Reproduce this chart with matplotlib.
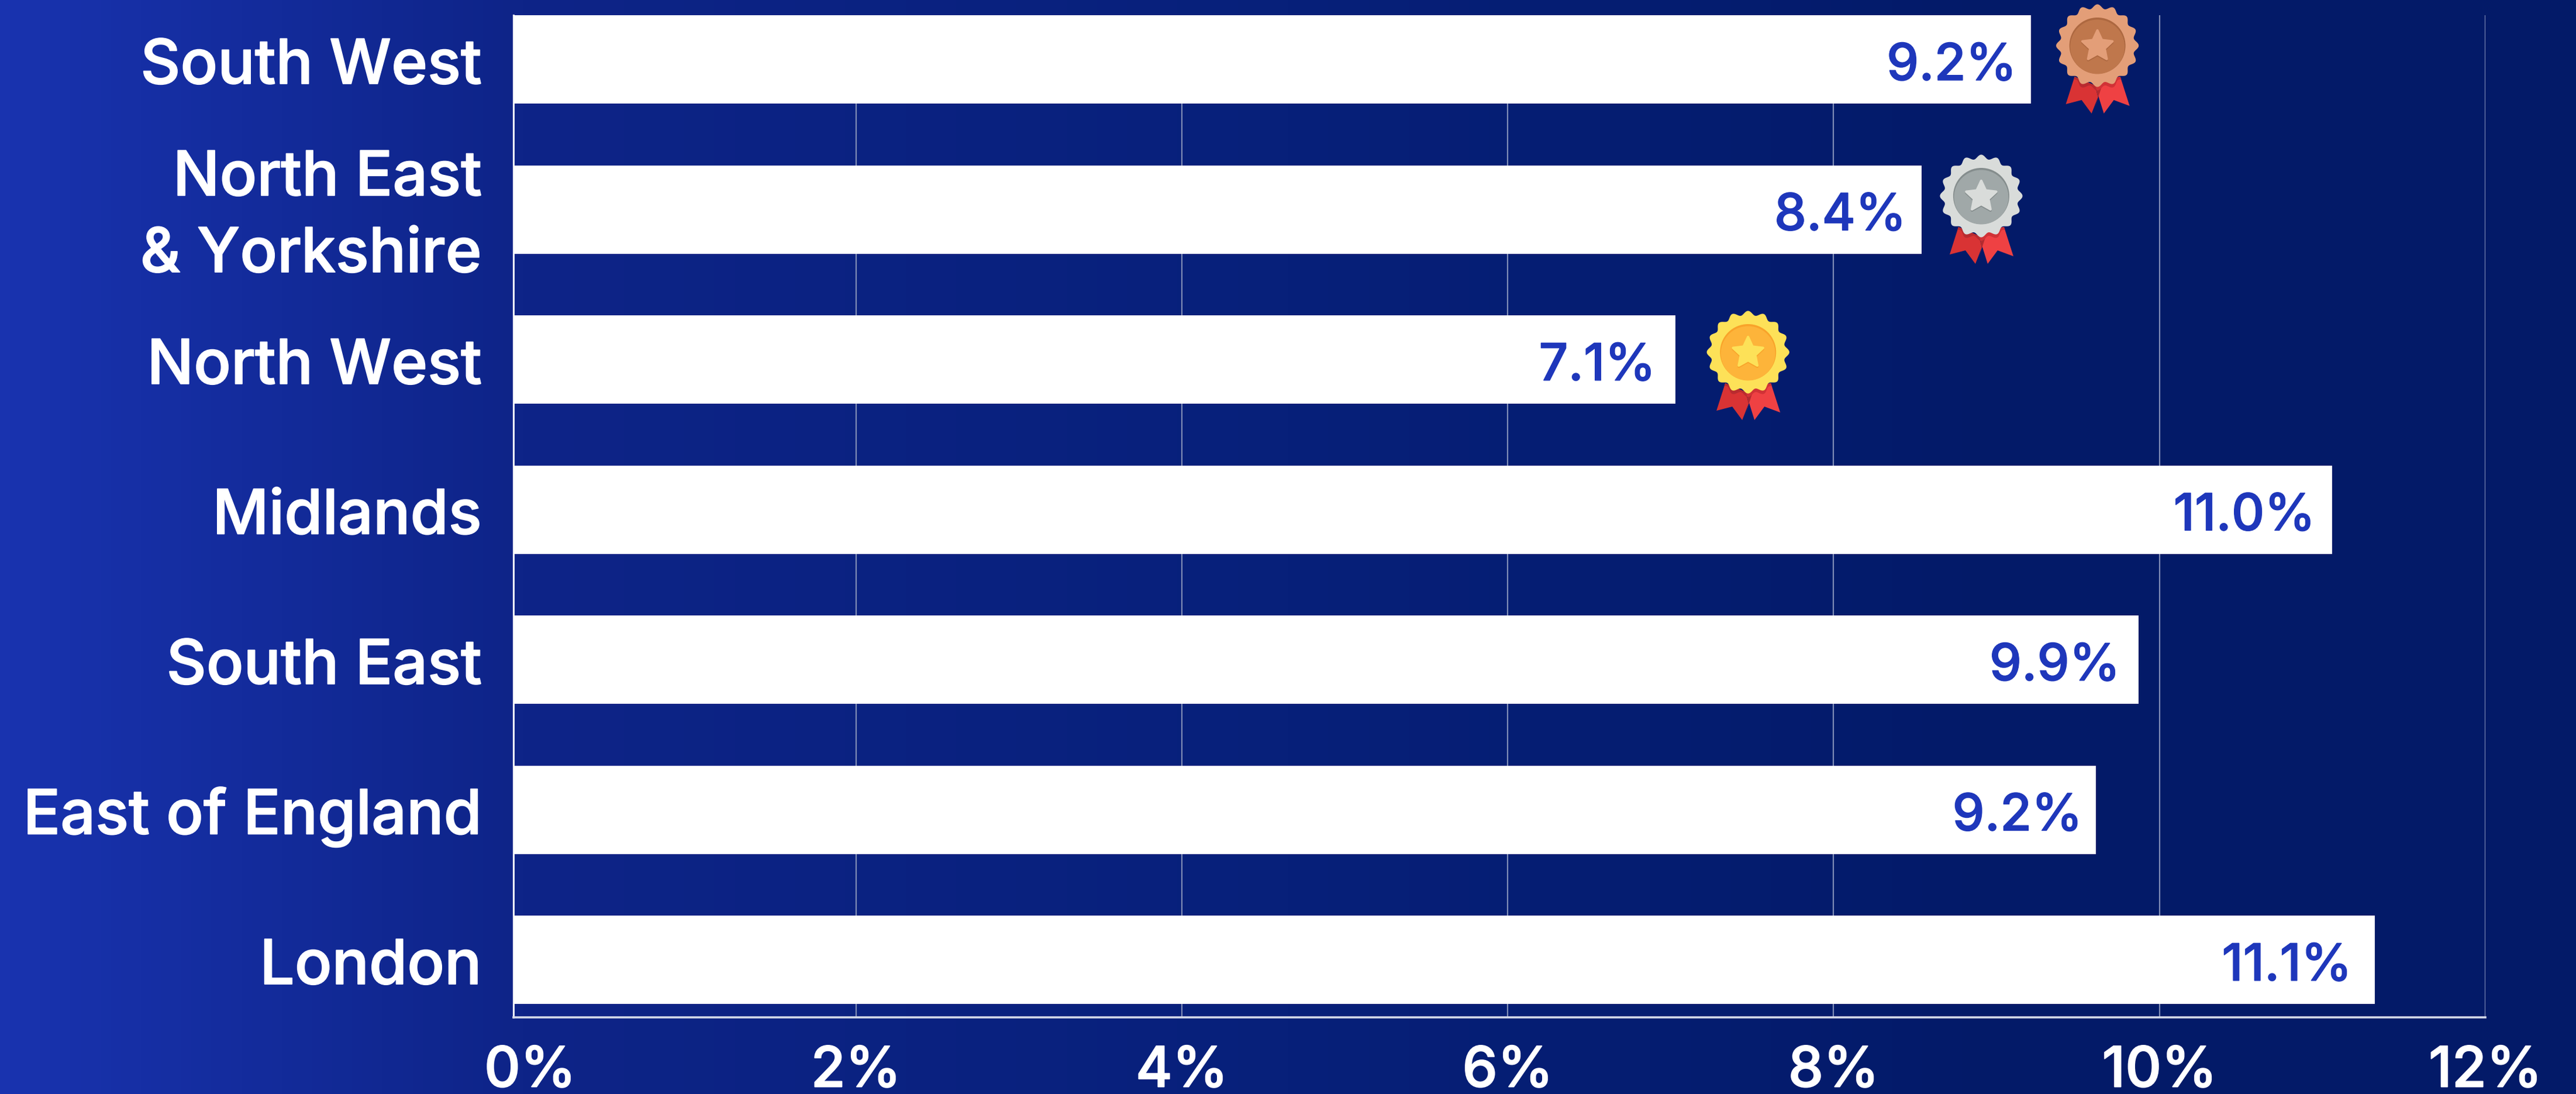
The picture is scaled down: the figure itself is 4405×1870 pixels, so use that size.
import numpy as np
import matplotlib
matplotlib.use('Agg')
import matplotlib.pyplot as plt
import matplotlib.colors as cls
import matplotlib.patheffects as pe
from matplotlib.patches import Polygon, Circle

regions = ["South West", "North East\n& Yorkshire", "North West", "Midlands", "South East", "East of England", "London"]
bar_ends = [9.21, 8.54, 7.03, 11.06, 9.87, 9.61, 11.32]
value_labels = ["9.2%", "8.4%", "7.1%", "11.0%", "9.9%", "9.2%", "11.1%"]
x_ticks = [0, 2, 4, 6, 8, 10, 12]
x_tick_labels = ["0%", "2%", "4%", "6%", "8%", "10%", "12%"]

medal_bars = [0, 1, 2]
medal_names = ["bronze", "silver", "gold"]
medal_cols = {'bronze': ('#e39e78', '#bf774c', '#ad6840'),
              'silver': ('#d9dcda', '#a0a8a8', '#858d8d'),
              'gold': ('#fde158', '#fdb43a', '#f9a32a')}
# medal centre relative to bar end / bar centre, px
medal_off = [(114, -23.5), (102, -23), (124, -12.5)]
# gap from bar end to label, px
label_gap = [24, 26, 34, 29, 31, 23, 39]

W, H = 4405, 1870
FONT = 'Inter'
plt.rcParams['font.family'] = [FONT, 'DejaVu Sans']

fig = plt.figure(figsize=(W/100, H/100), dpi=100)

# background gradient
bg = fig.add_axes([0, 0, 1, 1], zorder=0)
cmap = cls.LinearSegmentedColormap.from_list('bg', [(0, '#1933af'), (0.2, '#0e2488'), (0.5, '#07207a'), (0.78, '#031a68'), (1, '#031a68')])
bg.imshow(np.linspace(0, 1, 1024).reshape(1, -1), cmap=cmap, aspect='auto', extent=[0, 1, 0, 1])
bg.axis('off')

# main axes, left 878 right 4250 top 26 bottom 1739
ax = fig.add_axes([878/W, 1-1739/H, (4250-878)/W, (1739-26)/H], zorder=1)
ax.patch.set_alpha(0)
xmin = -0.102
pitch = 256.5
ax.set_xlim(xmin, 12)
ax.set_ylim(6+98.5/pitch, -75.5/pitch)

ypos = np.arange(len(regions))
ax.barh(ypos, np.array(bar_ends)-xmin, left=xmin, height=151/pitch, color='white', zorder=3)
ax.set_xticks(x_ticks)
ax.set_xticklabels(x_tick_labels, fontsize=69, color='white', fontweight='medium')
ax.set_yticks([])
ax.tick_params(axis='x', length=0, pad=35)
for t in ax.get_xticklabels():
    t.set_path_effects([pe.withStroke(linewidth=1.3, foreground='white')])
ax.grid(axis='x', color='#7f8cb6', lw=1.6, zorder=1)
ax.get_xgridlines()[0].set_visible(False)
for s in ['top', 'right']:
    ax.spines[s].set_visible(False)
ax.spines['left'].set_color('white')
ax.spines['left'].set_linewidth(2.2)
ax.spines['bottom'].set_color('#d5daea')
ax.spines['bottom'].set_linewidth(2.6)

# pixels -> points for offsets
px = 72/100
for i, name in enumerate(regions):
    lines = name.split('\n')
    for j, line in enumerate(lines):
        dy = -41.5 - (j-(len(lines)-1)/2)*131
        ax.annotate(line, xy=(xmin, i), xycoords='data', xytext=(-54*px, dy*px), textcoords='offset points',
                    ha='right', va='baseline', fontsize=76, color='white', fontweight='medium', annotation_clip=False,
                    path_effects=[pe.withStroke(linewidth=1.3, foreground='white')])
    ax.annotate(value_labels[i], xy=(bar_ends[i], i), xycoords='data', xytext=(-label_gap[i]*px, -35.5*px),
                textcoords='offset points', ha='right', va='baseline', fontsize=63, color='#1e37bb',
                fontweight='medium', zorder=5, path_effects=[pe.withStroke(linewidth=1.0, foreground='#1e37bb')])

# overlay in image pixels for the medals
ov = fig.add_axes([0, 0, 1, 1], zorder=2)
ov.set_xlim(0, W)
ov.set_ylim(H, 0)
ov.axis('off')


def scallop(cx, cy, r=67, amp=3.6, n=16):
    t = np.linspace(0, 2*np.pi, 720)
    rr = r + amp*np.cos(n*t)
    return np.c_[cx+rr*np.sin(t), cy-rr*np.cos(t)]


def star(cx, cy, r1=27, r2=13):
    t = np.arange(10)*np.pi/5
    rr = np.where(np.arange(10) % 2 == 0, r1, r2)
    return np.c_[cx+rr*np.sin(t), cy-rr*np.cos(t)]


def draw_medal(cx, cy, kind):
    outer, inner, rim = medal_cols[kind]
    left = [(-39, 53), (-54, 100), (-27, 93), (-10, 116), (1, 88), (-4, 68)]
    fold = [(-4, 68), (1, 88), (-4, 105), (8, 68)]
    right = [(39, 53), (55, 103), (28, 93), (11, 116), (-4, 68), (0, 60)]
    pl = Polygon(np.array(left)+(cx, cy), fc='#d93334', ec='none', zorder=1)
    pf = Polygon(np.array(fold)+(cx, cy), fc='#b42a2e', ec='none', zorder=2)
    pr = Polygon(np.array(right)+(cx, cy), fc='#ef4143', ec='none', zorder=2)
    ov.add_patch(pl)
    ov.add_patch(pr)
    ov.add_patch(pf)
    for p, col in ((pl, '#b92b2f'), (pr, '#d13236')):
        sh = Polygon(scallop(cx, cy+6), fc=col, ec='none', zorder=3)
        ov.add_patch(sh)
        sh.set_clip_path(p)
    ov.add_patch(Polygon(scallop(cx, cy), fc=outer, ec='none', zorder=4))
    ov.add_patch(Circle((cx, cy), 48, fc=rim, ec='none', zorder=5))
    ov.add_patch(Circle((cx, cy+2), 46.5, fc=inner, ec='none', zorder=6))
    ov.add_patch(Polygon(star(cx, cy+3), fc=rim, ec=rim, lw=3, joinstyle='round', zorder=7))
    ov.add_patch(Polygon(star(cx, cy+1), fc=outer, ec=outer, lw=3, joinstyle='round', zorder=8))


fig.canvas.draw()
for b, kind, off in zip(medal_bars, medal_names, medal_off):
    x, y = ax.transData.transform((bar_ends[b], b))
    draw_medal(x+off[0], H-y+off[1], kind)

fig.savefig('out.png', dpi=100)
plt.close(fig)
